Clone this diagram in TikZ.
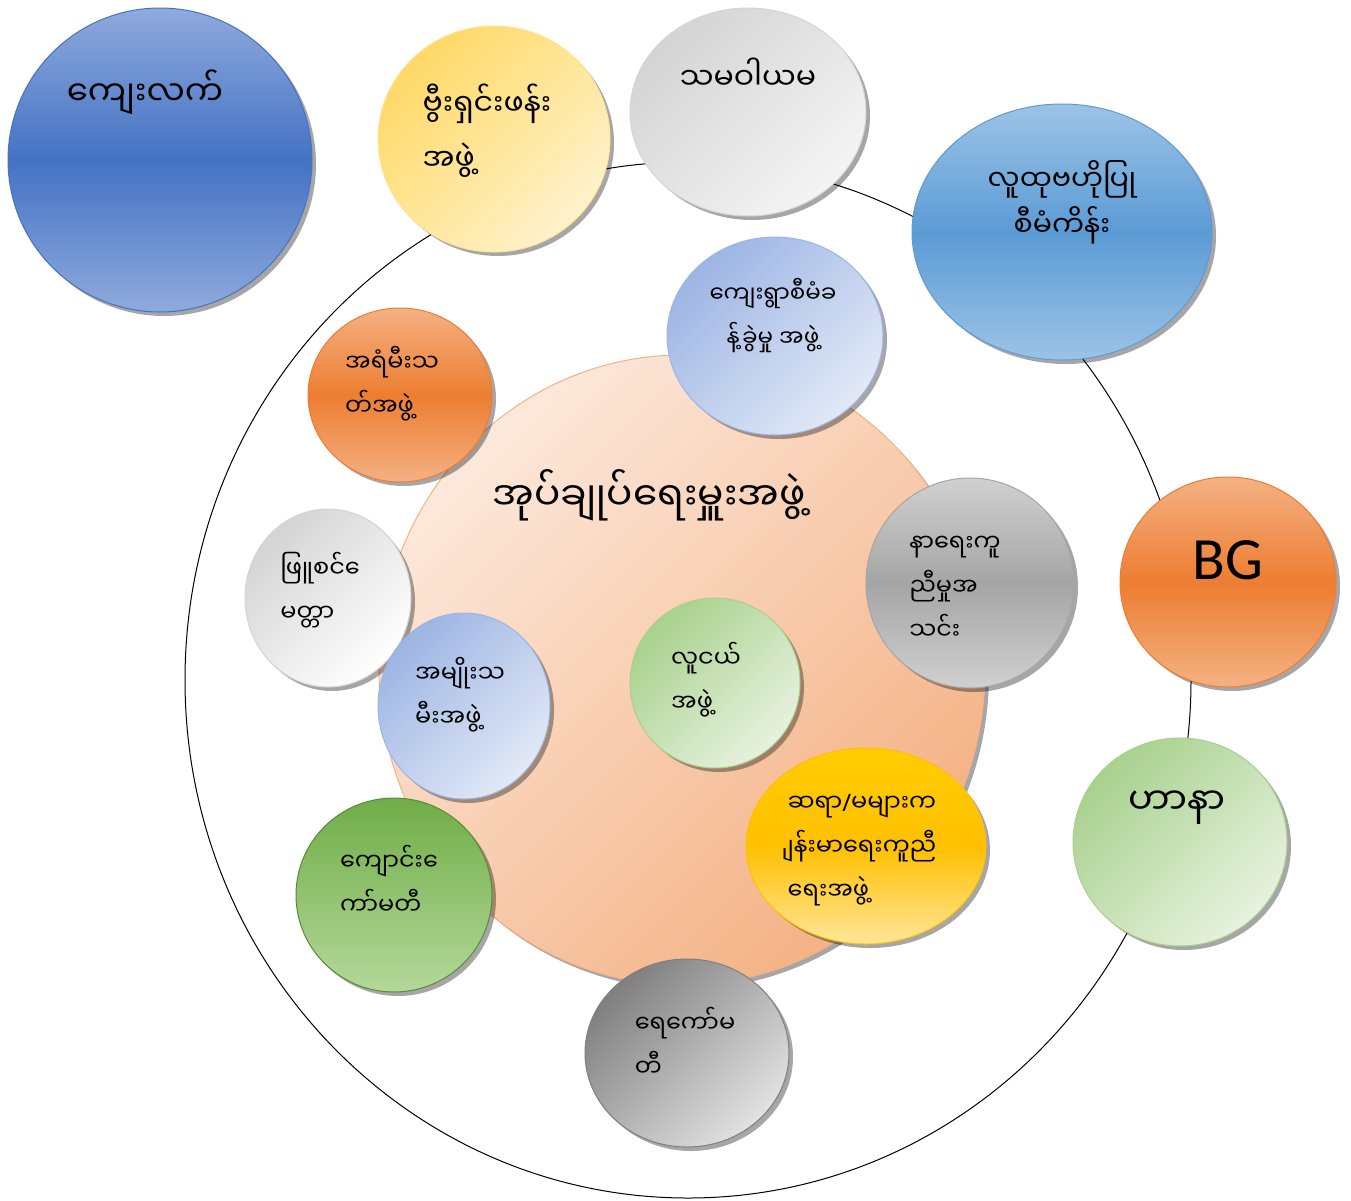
\documentclass[tikz,border=0pt]{standalone}
\usepackage{fontspec}
\newfontfamily\mmfont[Script=Myanmar]{Noto Sans Myanmar UI}
\newfontfamily\bgfont{Carlito}
\newfontfamily\slashfont{Noto Sans}
\usetikzlibrary{shapes.geometric,shadows}
\makeatletter
\newcommand\bare[1]{{\font\barefont="Noto Sans Myanmar UI:script=latn" at \f@size pt\barefont #1}}
\makeatother
\definecolor{blueA}{HTML}{4472C4}
\definecolor{blueAl}{HTML}{8FAADC}
\definecolor{blueB}{HTML}{5B9BD5}
\definecolor{blueBl}{HTML}{9DC3E6}
\definecolor{lavA}{HTML}{9DB5E4}
\definecolor{lavB}{HTML}{E2E9F6}
\definecolor{orangeA}{HTML}{ED7D31}
\definecolor{orangeAl}{HTML}{F4B183}
\definecolor{peachA}{HTML}{FCE9DC}
\definecolor{peachB}{HTML}{F4B183}
\definecolor{yellowA}{HTML}{FFD966}
\definecolor{yellowB}{HTML}{FFF2CC}
\definecolor{goldA}{HTML}{FFC000}
\definecolor{goldB}{HTML}{FFE699}
\definecolor{greenA}{HTML}{70AD47}
\definecolor{greenAl}{HTML}{B4D89A}
\definecolor{greenB}{HTML}{A9D18E}
\definecolor{greenBl}{HTML}{E7F2DF}
\definecolor{greyA}{HTML}{A5A5A5}
\definecolor{greyAl}{HTML}{D0D0D0}
\definecolor{greyB}{HTML}{D4D4D4}
\definecolor{greyBl}{HTML}{F4F4F4}
\definecolor{greyC}{HTML}{7F7F7F}
\definecolor{greyCl}{HTML}{E2E2E2}
\begin{document}
\begin{tikzpicture}[x=1pt,y=-1pt,
  bubble/.style={ellipse,inner sep=0pt,line width=1pt,
    drop shadow={shadow xshift=4pt,shadow yshift=-4pt,opacity=0.35,fill=black}},
  txtL/.style={font=\mmfont\fontsize{34}{60}\selectfont},
  txtM/.style={font=\mmfont\fontsize{30}{55}\selectfont},
  txtS/.style={font=\mmfont\fontsize{24}{44}\selectfont,align=left}]
\useasboundingbox (0,0) rectangle (1351,1200);
\node[ellipse,draw,line width=1pt,minimum width=1006pt,minimum height=1036pt] (ring) at (688,680) {};

\node[bubble,minimum width=606pt,minimum height=630pt,draw=peachB,top color=peachA,bottom color=peachB,shading angle=45] (admin) at (682,670) {};
\node[bubble,minimum width=304pt,minimum height=304pt,draw=blueA,top color=blueAl,bottom color=blueAl,middle color=blueA] (kyeilet) at (160,160) {};
\node[bubble,minimum width=232pt,minimum height=226pt,draw=yellowA!70,top color=yellowA,bottom color=yellowB,shading angle=45] (vision) at (494,139) {};
\node[bubble,minimum width=236pt,minimum height=208pt,draw=greyB,top color=greyB,bottom color=greyBl,shading angle=45] (coop) at (748,112) {};
\node[bubble,minimum width=300pt,minimum height=256pt,draw=blueB,top color=blueBl,bottom color=blueBl,middle color=blueB] (cdd) at (1062,232) {};
\node[bubble,minimum width=216pt,minimum height=198pt,draw=lavA,top color=lavA,bottom color=lavB,shading angle=45] (vdc) at (775,336) {};
\node[bubble,minimum width=184pt,minimum height=174pt,draw=orangeA,top color=orangeAl,bottom color=orangeAl,middle color=orangeA] (fire) at (400,395) {};
\node[bubble,minimum width=208pt,minimum height=210pt,draw=greyA,top color=greyAl,bottom color=greyAl,middle color=greyA] (funeral) at (970,583) {};
\node[bubble,minimum width=216pt,minimum height=210pt,draw=orangeA,top color=orangeAl,bottom color=orangeAl,middle color=orangeA] (bg) at (1228,582) {};
\node[bubble,minimum width=214pt,minimum height=208pt,draw=greenB,top color=greenB,bottom color=greenBl,shading angle=45] (hana) at (1180,842) {};
\node[bubble,minimum width=166pt,minimum height=178pt,draw=greyB,top color=greyB,bottom color=white,shading angle=45] (metta) at (328,598) {};
\node[bubble,minimum width=172pt,minimum height=186pt,draw=lavA,top color=lavA,bottom color=lavB,shading angle=45] (women) at (464,706) {};
\node[bubble,minimum width=170pt,minimum height=170pt,draw=greenB,top color=greenB,bottom color=greenBl,shading angle=45] (youth) at (715,683) {};
\node[bubble,minimum width=240pt,minimum height=196pt,draw=goldA,top color=goldA!80!yellow,bottom color=goldB,middle color=goldA] (teacher) at (866,846) {};
\node[bubble,minimum width=196pt,minimum height=194pt,draw=greenA!80!black,top color=greenA,bottom color=greenAl] (school) at (394,895) {};
\node[bubble,minimum width=204pt,minimum height=188pt,draw=greyC,top color=greyC,bottom color=greyCl,shading angle=45] (water) at (687,1053) {};

\node[txtL] (kyeilet-t) at (145,92) {ကျေးလက်};
\node[txtM,align=left] (vision-t) at (487,131) {ဗွီးရှင်းဖန်း\\အဖွဲ့};
\node[txtM] (coop-t) at (748,74) {သမဝါယမ};
\node[txtM,align=center,font=\mmfont\fontsize{28.5}{46}\selectfont] (cdd-t) at (1062,202) {လူထုဗဟိုပြု\\စီမံကိန်း};
\node[txtS,align=center,font=\mmfont\fontsize{23}{44}\selectfont] (vdc-t) at (773,316) {ကျေးရွာစီမံခ\\န့်ခွဲမှု အဖွဲ့};
\node[txtS] (fire-t) at (392,384) {အရံမီးသ\\တ်အဖွဲ့};
\node[txtL,font=\mmfont\fontsize{39}{60}\selectfont] (admin-t) at (649,495) {အုပ်ချုပ်ရေးမှူးအဖွဲ့};
\node[txtS] (funeral-t) at (955,588) {နာရေးကူ\\ညီမှုအ\\သင်း};
\node[font=\bgfont\fontsize{60}{70}\selectfont] (bg-t) at (1228,560) {BG};
\node[txtM,font=\mmfont\fontsize{37}{55}\selectfont] (hana-t) at (1177,808) {ဟာနာ};
\node[txtS] (metta-t) at (320,590) {ဖြူစင်\bare{ေ}\\မတ္တာ};
\node[txtS] (women-t) at (460,695) {အမျိုးသ\\မီးအဖွဲ့};
\node[txtS] (youth-t) at (706,680) {လူငယ်\\အဖွဲ့};
\node[txtS] (teacher-t) at (862,850) {ဆရာ{\slashfont /}မများက\\\bare{ျ}န်းမာရေးကူညီ\\ရေးအဖွဲ့};
\node[txtS] (school-t) at (389,880) {ကျောင်း\bare{ေ}\\ကာ်မတီ};
\node[txtS] (water-t) at (685,1042) {ရေကော်မ\\တီ};
\end{tikzpicture}
\end{document}
